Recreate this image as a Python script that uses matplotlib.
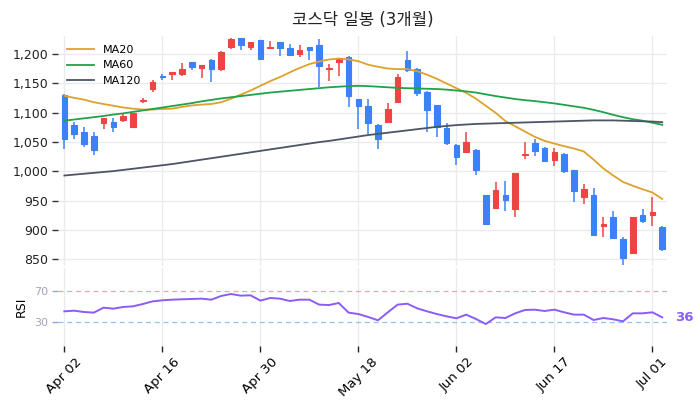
import matplotlib
matplotlib.use("Agg")
import matplotlib.pyplot as plt
import numpy as np
from matplotlib.ticker import FuncFormatter, FixedLocator

plt.rcParams['font.family'] = ['DejaVu Sans', 'Noto Sans CJK KR']

# ---- data ----
opens = [1130,1079,1068,1060,1083,1084,1088,1076,1120,1140,1163,1167,1167,1186,1176,1190,1175,1213,1227,1213,
         1224,1211,1220,1210,1200,1212,1216,1175,1186,1196,1123,1112,1080,1085,1119,1190,1175,1136,1113,1074,
         1045,1033,1037,959,938,959,936,1028,1049,1040,1020,1030,1002,957,959,906,923,885,860,926,925,905]
closes = [1055,1063,1046,1037,1091,1075,1095,1099,1122,1152,1161,1169,1175,1178,1182,1174,1204,1226,1215,1220,
          1191,1213,1210,1198,1207,1207,1179,1177,1192,1129,1111,1083,1056,1107,1161,1173,1133,1104,1075,1049,
          1025,1050,1002,911,968,952,997,1030,1034,1018,1033,1001,967,970,891,910,887,852,922,916,931,867]
highs = [1132,1084,1076,1068,1091,1091,1098,1100,1126,1156,1167,1170,1185,1187,1182,1191,1205,1228,1228,1221,
         1225,1223,1221,1218,1215,1213,1226,1183,1193,1197,1124,1123,1081,1116,1166,1206,1176,1137,1114,1082,
         1046,1067,1038,960,982,984,997,1050,1055,1041,1040,1031,1003,979,971,923,933,888,923,936,956,906]
lows = [1039,1055,1041,1028,1072,1068,1084,1075,1117,1135,1156,1156,1163,1173,1160,1152,1172,1209,1207,1207,
        1190,1211,1197,1197,1195,1190,1144,1154,1163,1110,1073,1064,1038,1084,1118,1170,1128,1067,1059,1045,
        1011,1032,994,910,937,932,922,1022,1026,1016,1009,997,947,944,891,888,885,840,859,912,906,864]

ma20 = [1129,1125.5,1122.5,1118,1115,1112,1109,1107,1105.5,1105.5,1106.5,1107,1110,1112.5,1114,1115,1118,1124,1131,1138,
        1146,1154,1161,1169,1176.5,1183,1187.5,1191,1192.5,1191,1188,1182,1178.5,1175.5,1174.5,1174.5,1171,1165,1158,1150,
        1142,1134,1124,1112,1100,1086,1077,1068,1059,1052,1047.5,1043,1039,1034,1020,1005,993,982,975.5,969.5,964,953]
ma60 = [1086.5,1088.5,1090.5,1092.5,1094.5,1097,1099,1101.5,1104,1106.5,1109,1111.5,1114,1116.5,1119.5,1122,1124.5,1126.5,1128.5,1130.5,
        1132.5,1134.5,1136,1137.5,1139,1140.5,1142,1143.5,1144.5,1145.5,1146,1145.5,1144.5,1143.5,1142.5,1142,1141.5,1141,1140.5,1139.5,
        1138,1136.5,1134.5,1131.5,1128.5,1126,1123.5,1121.5,1120,1118,1116,1113.5,1111,1108.5,1105,1101,1096.5,1092.5,1089,1086.5,1083,1079.5]
ma120 = [993,994.5,996,997.5,999,1000.5,1002.5,1004.5,1006.5,1008.5,1010.5,1012.5,1015,1017.5,1020,1022.5,1025,1027.5,1030,1032.5,
         1035,1037.5,1040,1042.5,1045,1047.5,1050,1052,1054.5,1057,1059.5,1062,1064,1066,1068,1070,1072,1074,1076,1077.5,
         1079,1080,1081,1081.5,1082,1082.5,1083,1083.5,1084,1084.5,1085,1085.5,1086,1086.5,1087,1087,1087,1086.5,1086,1085.5,1085,1084]
rsi = [44.2,45,43.3,42.5,48.9,47.6,49.8,50.6,53.6,57,58.4,59.2,59.7,60.1,60.5,59.2,64,66.5,64.4,64.8,
       58,61.4,60.5,57.5,59.2,59.2,52.8,52.3,54.9,42.5,40.7,36.9,32.6,42.9,52.8,54,48,44.2,40.7,37.7,
       35.2,39.9,34.3,27.8,36.4,35.6,41.6,45.9,46.3,44.6,46.3,42.9,39.9,39.9,33,35.6,33.9,31.3,41.6,41.6,42.9,36.4]

tick_labels = ["Apr 02", "Apr 16", "Apr 30", "May 18", "Jun 02", "Jun 17", "Jul 01"]
tick_step = 10
price_ticks = [850, 900, 950, 1000, 1050, 1100, 1150, 1200]
rsi_levels = [30, 70]

title = "코스닥 일봉 (3개월)"

# ---- styles ----
UP = "#ef4444"
DOWN = "#3b82f6"
C20 = "#dea22a"
C60 = "#1fa34a"
C120 = "#4b5563"
CRSI = "#8b5cf6"
GRID = "#ebebeb"

n = len(closes)
x = np.arange(n)

fig = plt.figure(figsize=(7.0, 4.11), dpi=100)
ax = fig.add_axes([0.083, 0.3528, 0.870, 0.5596])
ax2 = fig.add_axes([0.083, 0.1591, 0.870, 0.1888])

xlim = (-0.64, 61.5)

# candles
body_w = 0.58
for i in range(n):
    o, c, h, l = opens[i], closes[i], highs[i], lows[i]
    col = UP if c >= o else DOWN
    ax.vlines(x[i], l, h, color=col, linewidth=1.1, zorder=3)
    bottom = min(o, c)
    height = max(abs(c - o), 0.8)
    ax.bar(x[i], height, width=body_w, bottom=bottom, color=col, edgecolor=col,
           linewidth=0.8, zorder=4)

ax.plot(x, ma20, color=C20, linewidth=1.3, label="MA20", zorder=5)
ax.plot(x, ma60, color=C60, linewidth=1.3, label="MA60", zorder=5)
ax.plot(x, ma120, color=C120, linewidth=1.3, label="MA120", zorder=5)

ax.set_xlim(*xlim)
ax.set_ylim(838.6, 1231)
ax.yaxis.set_major_locator(FixedLocator(price_ticks))
ax.yaxis.set_major_formatter(FuncFormatter(lambda v, p: f"{int(v):,}"))
tick_pos = [i * tick_step for i in range(len(tick_labels))]
ax.set_xticks(tick_pos)
ax.set_xticklabels([])
ax.tick_params(axis='x', length=0)
ax.tick_params(axis='y', length=4, width=1, color="#333333", labelsize=9, pad=3, labelcolor="#222222")
ax.grid(True, color=GRID, linewidth=1)
ax.set_axisbelow(True)
for s in ax.spines.values():
    s.set_visible(False)

leg = ax.legend(loc="upper left", fontsize=8, frameon=False, handlelength=2.4,
                borderaxespad=0.4, labelspacing=0.5, handletextpad=0.8,
                bbox_to_anchor=(0.0, 1.0))

ax.set_title(title, fontsize=12, pad=8, color="#222222")

# RSI panel
ax2.plot(x, rsi, color=CRSI, linewidth=1.4, zorder=4)
ax2.axhline(rsi_levels[1], color="#f3a5a5", linestyle=(0, (4, 3)), linewidth=0.9, zorder=2)
ax2.axhline(rsi_levels[0], color="#8ec5f5", linestyle=(0, (4, 3)), linewidth=0.9, zorder=2)
ax2.set_xlim(*xlim)
ax2.set_ylim(0, 100)
ax2.set_yticks(rsi_levels)
ax2.set_yticklabels([str(v) for v in rsi_levels])
ax2.tick_params(axis='y', length=4, width=1, color="#a0a4b8", labelcolor="#a0a4b8", labelsize=8, pad=3)
ax2.set_xticks(tick_pos)
ax2.set_xticklabels(tick_labels, rotation=45, ha='center', va='top', fontsize=9.5)
ax2.tick_params(axis='x', length=4, width=1, color="#222222", pad=3)
ax2.grid(True, axis='x', color=GRID, linewidth=1)
ax2.set_axisbelow(True)
for s in ax2.spines.values():
    s.set_visible(False)
ax2.set_ylabel("RSI", fontsize=9, labelpad=5)
ax2.text(x[-1] + 1.3, rsi[-1], f"{rsi[-1]:.0f}", color=CRSI, fontsize=9.5,
         fontweight='bold', va='center', ha='left')

fig.savefig("out.png", dpi=100)
